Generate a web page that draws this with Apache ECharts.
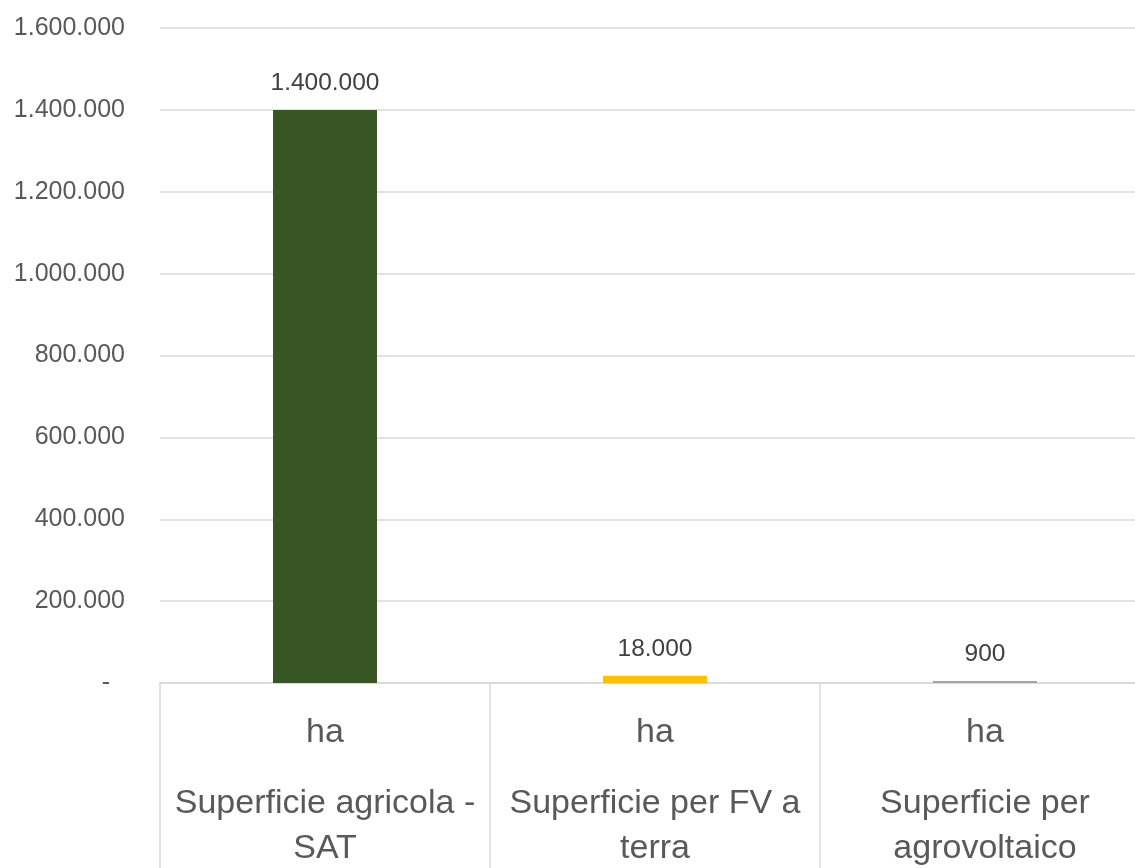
<!DOCTYPE html>
<html>
<head>
<meta charset="utf-8">
<script src="https://cdn.jsdelivr.net/npm/echarts@6/dist/echarts.min.js"></script>
<style>
  html, body { margin: 0; padding: 0; background: #ffffff; }
  #chart { width: 1135px; height: 868px; }
</style>
</head>
<body>
<div id="chart"></div>
<script>
// Category names (line breaks as displayed), unit row, values and bar colours
const categories = ['Superficie agricola -\nSAT', 'Superficie per FV a\nterra', 'Superficie per\nagrovoltaico'];
const units = ['ha', 'ha', 'ha'];
const values = [1400000, 18000, 900];
const barColors = ['#375623', '#ffc000', '#a5a5a5'];
const yMin = 0;
const yMax = 1600000;
const yStep = 200000;

// Italian thousands separator
function fmtIt(v) {
  return String(v).replace(/\B(?=(\d{3})+(?!\d))/g, '.');
}

const FONT = '"Liberation Sans", Arial, sans-serif';
const gridColor = '#d9d9d9';
const chart = echarts.init(document.getElementById('chart'), null, { renderer: 'canvas' });

chart.setOption({
  animation: false,
  backgroundColor: '#ffffff',
  grid: { left: 160, right: -15, top: 28, bottom: 185, containLabel: false, outerBoundsMode: 'none' },
  xAxis: {
    type: 'category',
    data: categories,
    axisLine: { show: true, lineStyle: { color: gridColor, width: 1.5 } },
    axisTick: { show: true, alignWithLabel: false, length: 200, lineStyle: { color: gridColor, width: 1.5 } },
    axisLabel: {
      interval: 0,
      margin: 2,
      color: '#595959',
      fontFamily: FONT,
      fontSize: 34,
      formatter: function (name, idx) {
        const lines = name.split('\n').map(s => '{n|' + s + '}');
        return '{u|' + units[idx] + '}\n' + lines.join('\n');
      },
      rich: {
        u: { lineHeight: 96, fontSize: 34, color: '#595959', fontFamily: FONT },
        n: { lineHeight: 45, fontSize: 34, color: '#595959', fontFamily: FONT }
      }
    }
  },
  yAxis: {
    type: 'value',
    min: yMin,
    max: yMax,
    interval: yStep,
    axisLine: { show: false },
    axisTick: { show: false },
    splitLine: { show: true, lineStyle: { color: gridColor, width: 1.5 } },
    axisLabel: {
      margin: 35,
      color: '#595959',
      fontFamily: FONT,
      fontSize: 25,
      formatter: function (v) { return v === 0 ? '{z|-}' : fmtIt(v); },
      rich: {
        z: { fontFamily: FONT, fontSize: 25, color: '#595959', padding: [0, 15, 0, 0] }
      }
    }
  },
  series: [{
    type: 'bar',
    barWidth: '31.5%',
    barMinHeight: 2,
    data: values.map((v, i) => ({ value: v, itemStyle: { color: barColors[i] } })),
    label: {
      show: true,
      position: 'top',
      distance: 14,
      color: '#404040',
      fontFamily: FONT,
      fontSize: 24.5,
      formatter: p => fmtIt(p.value)
    }
  }]
});
</script>
</body>
</html>
